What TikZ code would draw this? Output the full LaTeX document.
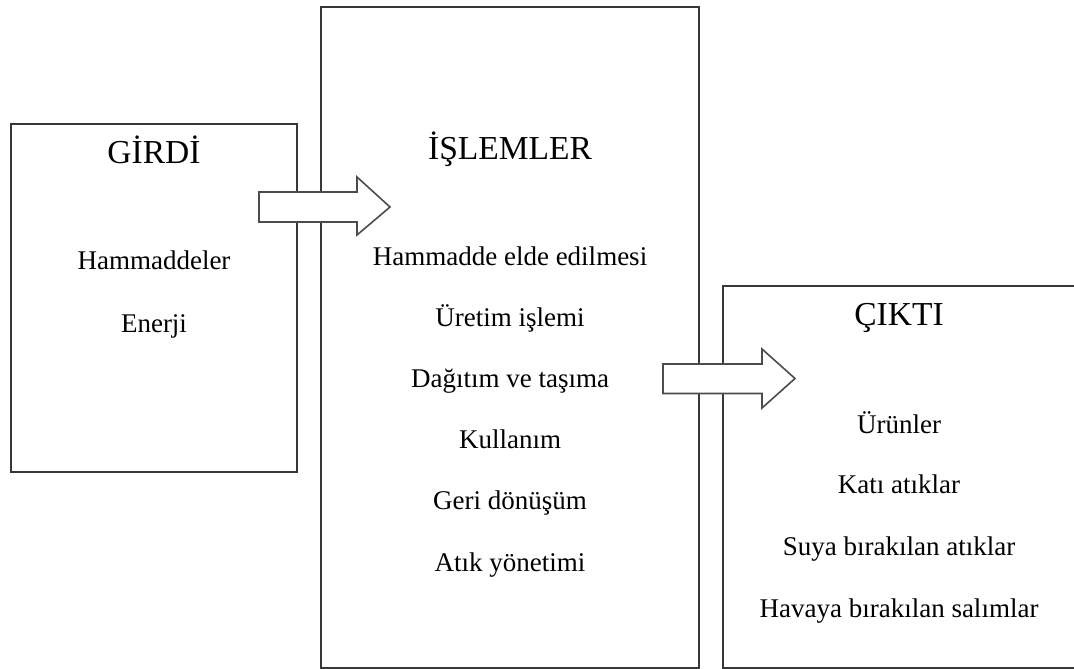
\documentclass[tikz,border=0pt]{standalone}
\usepackage{fontspec}
\setmainfont{Liberation Serif}
\begin{document}
\begin{tikzpicture}[x=1pt,y=-1pt,
  panel/.style={draw=black!78,line width=2pt},
  title/.style={anchor=base,inner sep=0pt,font=\fontsize{33.5}{38}\selectfont},
  item/.style={anchor=base,inner sep=0pt,font=\fontsize{27}{31}\selectfont},
  blockarrow/.style={draw=black!70,fill=white,line width=1.6pt,line join=miter}]
\useasboundingbox (0,0) rectangle (1074,669);

% the three stage boxes
\draw[panel] (10.7,124) rectangle (297.3,472);
\draw[panel] (321,7.3) rectangle (699,667.7);
\draw[panel] (723,286) rectangle (1076,667.7);

% input
\node[title] (girdi) at (154,163) {GİRDİ};
\node[item] (g1) at (154,269) {Hammaddeler};
\node[item] (g2) at (154,332) {Enerji};

% processes
\node[title] (islemler) at (510,159) {İŞLEMLER};
\node[item] (i1) at (510,265) {Hammadde elde edilmesi};
\node[item] (i2) at (510,326) {Üretim işlemi};
\node[item] (i3) at (510,387) {Dağıtım ve taşıma};
\node[item] (i4) at (510,448.5) {Kullanım};
\node[item] (i5) at (510,509.5) {Geri dönüşüm};
\node[item] (i6) at (510,571) {Atık yönetimi};

% output
\node[title] (cikti) at (899,325) {ÇIKTI};
\node[item] (c1) at (899,433) {Ürünler};
\node[item] (c2) at (899,493.5) {Katı atıklar};
\node[item] (c3) at (899,555) {Suya bırakılan atıklar};
\node[item] (c4) at (899,617) {Havaya bırakılan salımlar};

% block arrows between the stages
\draw[blockarrow] (259,192) -- (357,192) -- (357,177) -- (390,207)
  -- (357,235) -- (357,222) -- (259,222) -- cycle;
\draw[blockarrow] (663,364) -- (762,364) -- (762,349) -- (795,378.5)
  -- (762,408) -- (762,393.5) -- (663,393.5) -- cycle;
\end{tikzpicture}
\end{document}
